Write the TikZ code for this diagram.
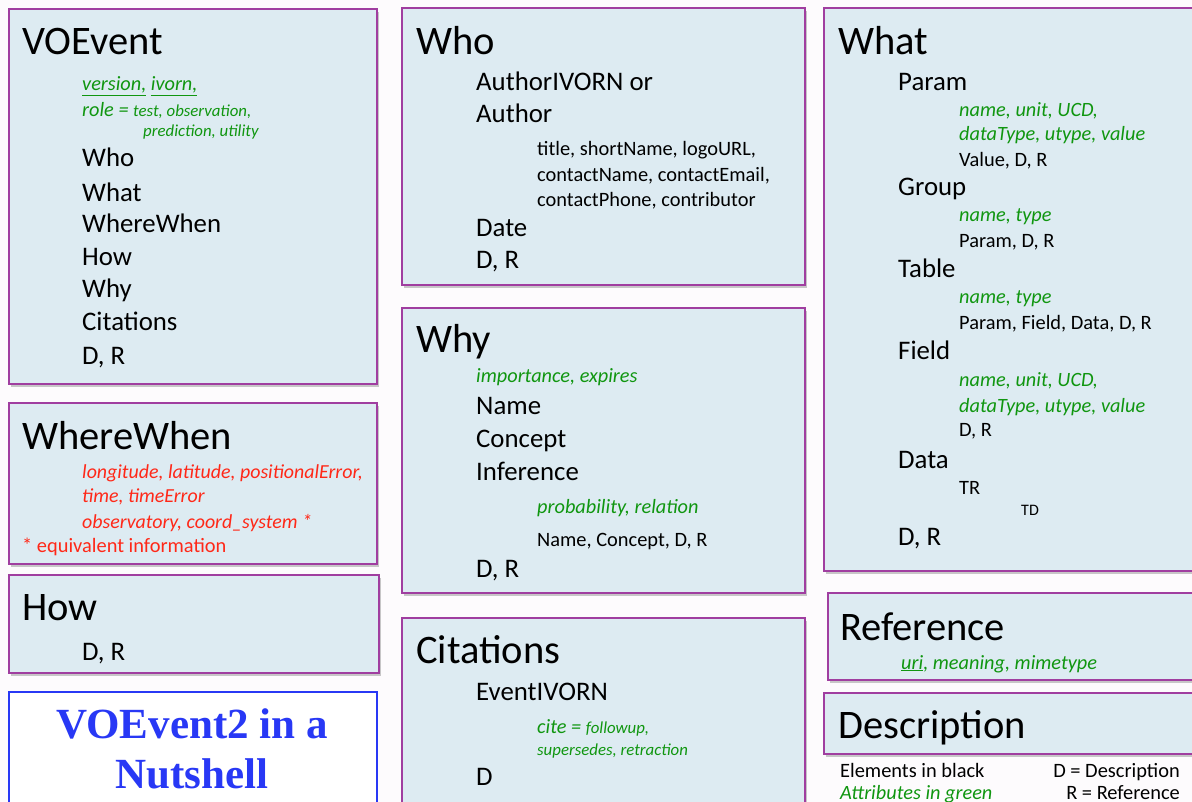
\documentclass[tikz,border=0pt]{standalone}
\usepackage{fontspec}
\setmainfont{Carlito}
\newfontfamily\titlefont{Liberation Serif}
\usetikzlibrary{shadows}
\definecolor{boxfill}{RGB}{221,235,242}
\definecolor{boxline}{RGB}{160,62,160}
\definecolor{attrgreen}{RGB}{16,150,16}
\definecolor{attrred}{RGB}{255,40,24}
\definecolor{titleblue}{RGB}{40,56,245}
\definecolor{pagebg}{RGB}{253,251,253}

\begin{document}
\begin{tikzpicture}[x=1pt,y=-1pt]
    \tikzset{box/.style={draw=boxline,line width=1.6pt,fill=boxfill,anchor=north west,inner sep=0pt,
        drop shadow={shadow xshift=2pt,shadow yshift=-3pt,opacity=0.3,fill=black!70}}}
    \tikzset{head/.style={anchor=base west,inner sep=0pt,font=\fontsize{40.5}{42}\selectfont}}
    \tikzset{item/.style={anchor=base west,inner sep=0pt,font=\fontsize{26.8}{28}\selectfont}}
    \tikzset{sub/.style={anchor=base west,inner sep=0pt,font=\fontsize{20.4}{22}\selectfont}}
    \tikzset{attr/.style={sub,text=attrgreen,font=\fontsize{20.3}{22}\selectfont\itshape}}
    \tikzset{smallattr/.style={sub,text=attrgreen,font=\fontsize{16.8}{18}\selectfont\itshape}}
    \tikzset{redattr/.style={sub,text=attrred,font=\fontsize{19.9}{22}\selectfont\itshape}}
    \newcommand{\smallsize}{\fontsize{16.8}{18}\selectfont}

    \fill[pagebg] (0,0) rectangle (1192,802);
    \useasboundingbox (0,0) rectangle (1192,802);
    \clip (0,0) rectangle (1192,802);

    % left column
    \node[box,minimum width=368pt,minimum height=375pt] (vobox) at (8,8) {};
    \node[head] (vo) at (22,55) {VOEvent};
    \node[attr] (vo1) at (82,91) {\underline{version,} \underline{ivorn,}};
    \node[attr] (vo2) at (82,117) {role = {\smallsize test, observation,}};
    \node[smallattr] (vo3) at (143,137) {prediction, utility};
    \node[item] (vo4) at (82,167) {Who};
    \node[item] (vo5) at (82,202) {What};
    \node[item] (vo6) at (82,233) {WhereWhen};
    \node[item] (vo7) at (82,266) {How};
    \node[item] (vo8) at (82,298) {Why};
    \node[item] (vo9) at (82,331) {Citations};
    \node[item] (vo10) at (82,365) {D, R};

    \node[box,minimum width=368pt,minimum height=161pt] (wwbox) at (8,402) {};
    \node[head] (ww) at (22,449) {WhereWhen};
    \node[redattr] (ww1) at (82,478) {longitude, latitude, positionalError,};
    \node[redattr] (ww2) at (82,502) {time, timeError};
    \node[redattr] (ww3) at (82,528) {observatory, coord\_system *};
    \node[sub,text=attrred] (ww4) at (22,552) {* equivalent information};

    \node[box,minimum width=370pt,minimum height=98pt] (howbox) at (8,574) {};
    \node[head] (how) at (22,620) {How};
    \node[item] (how1) at (82,660) {D, R};

    \node[draw=titleblue,line width=1.6pt,fill=white,anchor=north west,minimum width=368pt,minimum height=130pt] (titlebox) at (8,691) {};
    \node[anchor=base,inner sep=0pt,text=titleblue,font=\titlefont\bfseries\fontsize{43}{46}\selectfont] (title1) at (192,738) {VOEvent2 in a};
    \node[anchor=base,inner sep=0pt,text=titleblue,font=\titlefont\bfseries\fontsize{43}{46}\selectfont] (title2) at (192,788) {Nutshell};

    % middle column
    \node[box,minimum width=403pt,minimum height=277pt] (whobox) at (401,7) {};
    \node[head] (who) at (416,55) {Who};
    \node[item] (who1) at (476,91) {AuthorIVORN or};
    \node[item] (who2) at (476,123) {Author};
    \node[sub] (who3) at (537,156) {title, shortName, logoURL,};
    \node[sub] (who4) at (537,182) {contactName, contactEmail,};
    \node[sub] (who5) at (537,207) {contactPhone, contributor};
    \node[item] (who6) at (476,237) {Date};
    \node[item] (who7) at (476,269) {D, R};

    \node[box,minimum width=403pt,minimum height=285pt] (whybox) at (401,307) {};
    \node[head] (why) at (416,353) {Why};
    \node[attr] (why1) at (476,383) {importance, expires};
    \node[item] (why2) at (476,414) {Name};
    \node[item] (why3) at (476,447) {Concept};
    \node[item] (why4) at (476,480) {Inference};
    \node[attr] (why5) at (537,513) {probability, relation};
    \node[sub] (why6) at (537,546) {Name, Concept, D, R};
    \node[item] (why7) at (476,577) {D, R};

    \node[box,minimum width=403pt,minimum height=200pt] (citebox) at (401,617) {};
    \node[head] (cite) at (416,663) {Citations};
    \node[item] (cite1) at (476,700) {EventIVORN};
    \node[attr] (cite2) at (537,733) {cite = {\smallsize followup,}};
    \node[smallattr] (cite3) at (537,755) {supersedes, retraction};
    \node[item] (cite4) at (476,785) {D};

    % right column
    \node[box,minimum width=380pt,minimum height=563pt] (whatbox) at (823,7) {};
    \node[head] (what) at (838,55) {What};
    \node[item] (what1) at (898,91) {Param};
    \node[attr] (what2) at (959,117) {name, unit, UCD,};
    \node[attr] (what3) at (959,141) {dataType, utype, value};
    \node[sub] (what4) at (959,167) {Value, D, R};
    \node[item] (what5) at (898,196) {Group};
    \node[attr] (what6) at (959,222) {name, type};
    \node[sub] (what7) at (959,248) {Param, D, R};
    \node[item] (what8) at (898,278) {Table};
    \node[attr] (what9) at (959,304) {name, type};
    \node[sub] (what10) at (959,330) {Param, Field, Data, D, R};
    \node[item] (what11) at (898,360) {Field};
    \node[attr] (what12) at (959,387) {name, unit, UCD,};
    \node[attr] (what13) at (959,412) {dataType, utype, value};
    \node[sub] (what14) at (959,436) {D, R};
    \node[item] (what15) at (898,468) {Data};
    \node[sub] (what16) at (959,494) {TR};
    \node[sub,font=\fontsize{16}{18}\selectfont] (what17) at (1021,515) {TD};
    \node[item] (what18) at (898,545) {D, R};

    \node[box,minimum width=376pt,minimum height=87pt] (refbox) at (827,592) {};
    \node[head] (ref) at (840,640) {Reference};
    \node[attr] (ref1) at (901,669) {\underline{uri}, meaning, mimetype};

    \node[box,minimum width=380pt,minimum height=61pt] (descbox) at (823,692) {};
    \node[head] (desc) at (838,738) {Description};

    % legend
    \node[sub] (key1) at (840,777) {Elements in black};
    \node[attr] (key2) at (840,799) {Attributes in green};
    \node[sub,anchor=base east] (key3) at (1180,777) {D = Description};
    \node[sub,anchor=base east] (key4) at (1180,799) {R = Reference};
\end{tikzpicture}
\end{document}
